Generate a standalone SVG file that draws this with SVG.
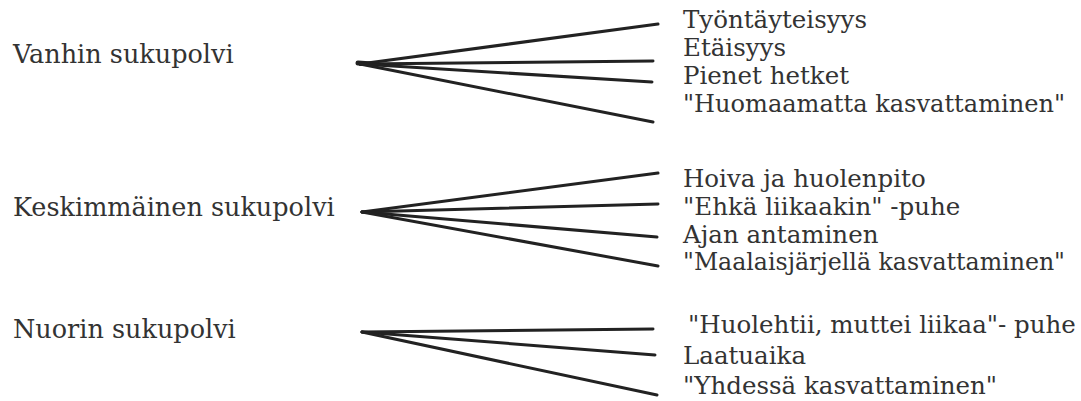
<svg xmlns="http://www.w3.org/2000/svg" width="1081" height="401" viewBox="0 0 1081 401">
<style>
.t{font-family:"DejaVu Serif","Liberation Serif",serif;fill:#333}
.l{font-size:25.5px}
.r{font-size:24.5px}
.c line{stroke:#222;stroke-width:3;stroke-linecap:round}
</style>
<rect width="1081" height="401" fill="#fff"/>
<g id="n-vanhin"><text class="t l" x="13" y="63">Vanhin sukupolvi</text></g>
<g id="n-keski"><text class="t l" x="13" y="216">Keskimmäinen sukupolvi</text></g>
<g id="n-nuorin"><text class="t l" x="13" y="338">Nuorin sukupolvi</text></g>
<g id="n-v1"><text class="t r" x="683" y="28">Työntäyteisyys</text></g>
<g id="n-v2"><text class="t r" x="683" y="56">Etäisyys</text></g>
<g id="n-v3"><text class="t r" x="683" y="84">Pienet hetket</text></g>
<g id="n-v4"><text class="t r" x="683" y="112" textLength="382" lengthAdjust="spacingAndGlyphs">"Huomaamatta kasvattaminen"</text></g>
<g id="n-k1"><text class="t r" x="683" y="187">Hoiva ja huolenpito</text></g>
<g id="n-k2"><text class="t r" x="683" y="215">"Ehkä liikaakin" -puhe</text></g>
<g id="n-k3"><text class="t r" x="683" y="243">Ajan antaminen</text></g>
<g id="n-k4"><text class="t r" x="683" y="270" textLength="382" lengthAdjust="spacingAndGlyphs">"Maalaisjärjellä kasvattaminen"</text></g>
<g id="n-n1"><text class="t r" x="688" y="333">"Huolehtii, muttei liikaa"- puhe</text></g>
<g id="n-n2"><text class="t r" x="683" y="364">Laatuaika</text></g>
<g id="n-n3"><text class="t r" x="683" y="394">"Yhdessä kasvattaminen"</text></g>
<g id="connectors" class="c">
<line x1="358" y1="63" x2="372" y2="64" style="stroke-width:5"/>
<line x1="360" y1="64" x2="658" y2="24"/>
<line x1="360" y1="64" x2="653" y2="61"/>
<line x1="360" y1="64" x2="652" y2="82"/>
<line x1="360" y1="64" x2="653" y2="122"/>
<line x1="362" y1="212" x2="658" y2="173"/>
<line x1="362" y1="212" x2="658" y2="204"/>
<line x1="362" y1="212" x2="657" y2="237"/>
<line x1="362" y1="212" x2="658" y2="266"/>
<line x1="362" y1="332" x2="653" y2="329"/>
<line x1="362" y1="332" x2="655" y2="355"/>
<line x1="362" y1="332" x2="657" y2="395"/>
</g>
</svg>
